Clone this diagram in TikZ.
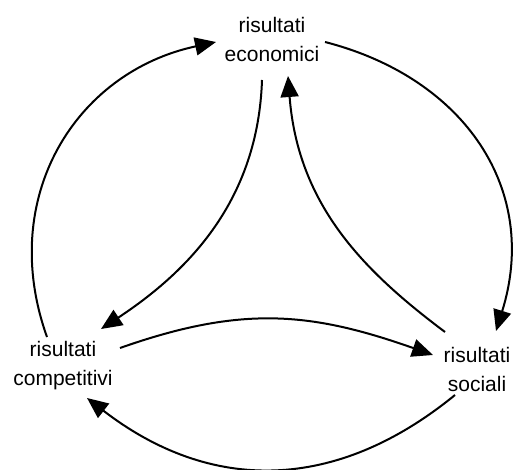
\documentclass[tikz,border=0pt]{standalone}
\usepackage{fontspec}
\setmainfont{Liberation Sans}
\usetikzlibrary{arrows.meta}
\begin{document}
\begin{tikzpicture}[x=1pt,y=-1pt,
  label/.style={align=center,inner sep=0pt,font=\fontsize{21}{29}\selectfont},
  flow/.style={line width=2pt,-{Triangle[length=21pt,width=18pt]}}]
\useasboundingbox (0,0) rectangle (514,470);
% the three kinds of results
\node[label] (eco)  at (272,39)  {risultati\\economici};
\node[label] (comp) at (63,366)  {risultati\\competitivi};
\node[label] (soc)  at (477,369) {risultati\\sociali};
% outer cycle
\draw[flow] ([shift={(-16,-29)}]comp.center) .. controls +(-50,-140) and +(-140,30) .. ([shift={(-56,3)}]eco.center);
\draw[flow] ([shift={(53,3)}]eco.center) .. controls +(140,36) and +(44,-141) .. ([shift={(19,-38)}]soc.center);
\draw[flow] ([shift={(-22,26)}]soc.center) .. controls +(-120,98) and +(123,95) .. ([shift={(24,32)}]comp.center);
% inner cycle
\draw[flow] ([shift={(-10,41)}]eco.center) .. controls +(-4,120) and +(88,-58) .. ([shift={(38,-37)}]comp.center);
\draw[flow] ([shift={(-32,-37)}]soc.center) .. controls +(-80,-60) and +(10,130) .. ([shift={(16,37)}]eco.center);
\draw[flow] ([shift={(57,-18)}]comp.center) .. controls +(122,-43) and +(-122,-43) .. ([shift={(-44,-14)}]soc.center);
\end{tikzpicture}
\end{document}
